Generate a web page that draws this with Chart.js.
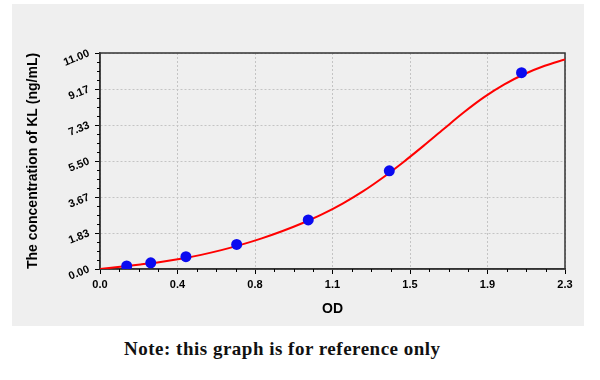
<!DOCTYPE html>
<html><head><meta charset="utf-8">
<script src="https://cdn.jsdelivr.net/npm/chart.js@4"></script>
<style>
html,body{margin:0;padding:0;background:#fff;width:600px;height:380px;overflow:hidden;}
#panel{position:absolute;left:12px;top:4px;width:572px;height:322px;background:#efefef;}
#note{position:absolute;left:124px;top:339px;font:bold 19px "Liberation Serif",serif;letter-spacing:0.5px;line-height:19px;color:#111;white-space:nowrap;}
</style></head><body>
<div id="panel"><canvas id="c" width="572" height="322"></canvas></div>
<div id="note">Note: this graph is for reference only</div>
<script>
// fitted curve
const curveOD   = [0, 0.1, 0.2, 0.3, 0.4, 0.5, 0.6, 0.7, 0.8, 0.9, 1.0, 1.1, 1.2, 1.3, 1.4, 1.5, 1.6, 1.7, 1.8, 1.9, 2.0, 2.1, 2.2, 2.3];
const curveConc = [0, 0.11, 0.23, 0.36, 0.52, 0.72, 0.96, 1.24, 1.56, 1.92, 2.33, 2.79, 3.33, 3.95, 4.66, 5.44, 6.27, 7.13, 7.98, 8.75, 9.40, 9.93, 10.35, 10.67];
// standards
const stdOD   = [0.132, 0.251, 0.425, 0.676, 1.030, 1.431, 2.085];
const stdConc = [0.156, 0.312, 0.625, 1.25, 2.5, 5, 10];
// tick labels
const xTickLabels = ['0.0', '0.4', '0.8', '1.1', '1.5', '1.9', '2.3'];
const yTickLabels = ['0.00', '1.83', '3.67', '5.50', '7.33', '9.17', '11.00'];

const curvePts = curveOD.map((x, i) => ({x: x, y: curveConc[i]}));
const stdPts = stdOD.map((x, i) => ({x: x, y: stdConc[i]}));

const framePlugin = {
  id: 'frame',
  beforeDatasetsDraw(chart) {
    const a = chart.chartArea, ctx = chart.ctx;
    ctx.save();
    ctx.strokeStyle = '#333';
    ctx.lineWidth = 1.5;
    ctx.strokeRect(a.left, a.top, a.right - a.left, a.bottom - a.top);
    ctx.restore();
  }
};
const minorTicks = {
  id: 'minorTicks',
  afterDraw(chart) {
    const ctx = chart.ctx, a = chart.chartArea;
    const xs = chart.scales.x, ys = chart.scales.y;
    ctx.save();
    ctx.strokeStyle = '#000';
    ctx.lineWidth = 1;
    const xt = xs.ticks.map(t => t.value);
    for (let i = 0; i < xt.length - 1; i++) {
      for (let k = 1; k < 4; k++) {
        const px = Math.round(xs.getPixelForValue(xt[i] + (xt[i + 1] - xt[i]) * k / 4)) + 0.5;
        ctx.beginPath(); ctx.moveTo(px, a.bottom); ctx.lineTo(px, a.bottom + 3); ctx.stroke();
      }
    }
    const yt = ys.ticks.map(t => t.value);
    for (let i = 0; i < yt.length - 1; i++) {
      for (let k = 1; k < 4; k++) {
        const py = Math.round(ys.getPixelForValue(yt[i] + (yt[i + 1] - yt[i]) * k / 4)) + 0.5;
        ctx.beginPath(); ctx.moveTo(a.left, py); ctx.lineTo(a.left - 3, py); ctx.stroke();
      }
    }
    ctx.restore();
  }
};

const tickFont = {family: '"Liberation Sans", Arial, sans-serif', weight: 'bold', size: 11};
const titleFont = {family: '"Liberation Sans", Arial, sans-serif', weight: 'bold', size: 14};

new Chart(document.getElementById('c'), {
  type: 'scatter',
  data: {
    datasets: [
      {label: 'std', data: stdPts, pointRadius: 5.5, pointBackgroundColor: '#0a0af0', pointBorderWidth: 0, showLine: false},
      {label: 'curve', data: curvePts, showLine: true, pointRadius: 0, borderColor: '#ff0000', borderWidth: 2, cubicInterpolationMode: 'monotone', fill: false}
    ]
  },
  options: {
    responsive: false,
    animation: false,
    devicePixelRatio: 1,
    layout: {padding: {left: 0, top: 49, right: 19, bottom: 0}},
    plugins: {legend: {display: false}, tooltip: {enabled: false}},
    scales: {
      x: {
        type: 'linear', min: 0, max: 2.3,
        ticks: {count: 7, callback: (v, i) => xTickLabels[i], font: tickFont, color: '#000', padding: 4, maxRotation: 0, autoSkip: false},
        grid: {color: '#c4c4c4', tickColor: '#000', tickLength: 5, lineWidth: 1},
        border: {display: true, color: '#333', width: 1.5, dash: [2, 2]},
        title: {display: true, text: 'OD', font: titleFont, color: '#000', padding: {top: 0, bottom: 8}},
        afterFit(s) { s.height = 57; }
      },
      y: {
        type: 'linear', min: 0, max: 11,
        ticks: {count: 7, callback: (v, i) => yTickLabels[i], font: tickFont, color: '#000', padding: 6, minRotation: 22, maxRotation: 22, autoSkip: false},
        grid: {color: '#c4c4c4', tickColor: '#000', tickLength: 5, lineWidth: 1},
        border: {display: true, color: '#333', width: 1.5, dash: [2, 2]},
        title: {display: true, text: 'The concentration of KL (ng/mL)', font: titleFont, color: '#000', padding: {top: 12.6, bottom: 0}},
        afterFit(s) { s.width = 88; }
      }
    }
  },
  plugins: [framePlugin, minorTicks]
});
</script>
</body></html>
